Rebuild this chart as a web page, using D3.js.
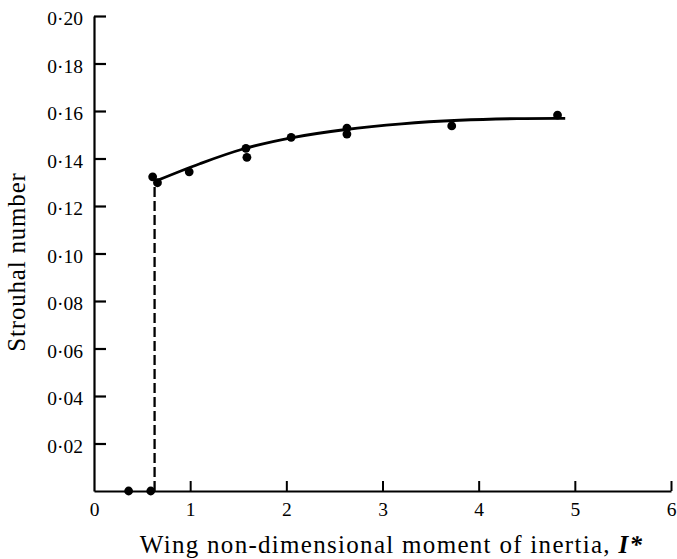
<!DOCTYPE html>
<html>
<head>
<meta charset="utf-8">
<script src="https://cdn.jsdelivr.net/npm/d3@7"></script>
<style>
  html, body { margin: 0; padding: 0; background: #fff; }
  svg { display: block; }
  text { font-family: "Liberation Serif", "DejaVu Serif", serif; fill: #000; }
</style>
</head>
<body>
<svg id="chart" width="677" height="559"></svg>
<script>
// Measured points: wing moment of inertia vs. Strouhal number
const inertia  = [0.36, 0.59, 0.61, 0.66, 0.99, 1.58, 1.59, 2.05, 2.63, 2.63, 3.72, 4.82];
const strouhal = [0, 0, 0.1323, 0.1298, 0.1344, 0.1443, 0.1405, 0.1489, 0.1528, 0.1503, 0.1537, 0.1583];

// Hand-drawn fitted curve through the fluttering branch
const fitInertia  = [0.66, 1.1, 1.55, 2.05, 2.6, 3.2, 3.8, 4.4, 4.9];
const fitStrouhal = [0.1308, 0.1378, 0.1440, 0.1487, 0.1521, 0.1546, 0.1561, 0.1568, 0.1569];

// Onset of flutter (dashed jump)
const onsetInertia = [0.63, 0.63];
const onsetStrouhal = [0, 0.129];

// Axis ticks
const xTicks = [0, 1, 2, 3, 4, 5, 6];
const yTicks = [0.02, 0.04, 0.06, 0.08, 0.10, 0.12, 0.14, 0.16, 0.18, 0.20];

const xLabel = "Wing non-dimensional moment of inertia, ";
const xLabelSymbol = "I*";
const yLabel = "Strouhal number";

const svg = d3.select("#chart");

const x = d3.scaleLinear().domain([0, 6]).range([94, 671]);
const y = d3.scaleLinear().domain([0, 0.20]).range([491, 16]);

const fmt = v => d3.format(".2f")(v).replace(".", "\u00B7");

// Y axis: ticks point into the plot
const yAxis = svg.append("g")
  .attr("transform", `translate(${x(0)},0)`)
  .call(d3.axisLeft(y).tickValues(yTicks).tickFormat(fmt)
    .tickSizeInner(-12).tickSizeOuter(0).tickPadding(11));
yAxis.select(".domain").attr("stroke", "#000").attr("stroke-width", 2.2);
yAxis.selectAll(".tick line").attr("stroke", "#000").attr("stroke-width", 2.2);
yAxis.selectAll(".tick text")
  .attr("dy", "0.45em")
  .style("font-size", "19.5px")
  .style("font-family", "'Liberation Serif', serif");

// X axis: ticks point up, no tick mark at zero
const xAxis = svg.append("g")
  .attr("transform", `translate(0,${y(0)})`)
  .call(d3.axisBottom(x).tickValues(xTicks).tickFormat(d3.format("d"))
    .tickSizeInner(-10).tickSizeOuter(0).tickPadding(11));
xAxis.select(".domain").attr("stroke", "#000").attr("stroke-width", 2.2);
xAxis.selectAll(".tick line").attr("stroke", "#000").attr("stroke-width", 2)
  .attr("display", d => d === 0 ? "none" : null);
xAxis.selectAll(".tick text")
  .style("font-size", "19.5px")
  .style("font-family", "'Liberation Serif', serif");

// Dashed vertical jump
svg.append("path")
  .datum(d3.zip(onsetInertia, onsetStrouhal))
  .attr("fill", "none")
  .attr("stroke", "#000")
  .attr("stroke-width", 2.3)
  .attr("stroke-dasharray", "10,4")
  .attr("d", d3.line().x(d => x(d[0])).y(d => y(d[1])));

// Fitted curve
svg.append("path")
  .datum(d3.zip(fitInertia, fitStrouhal))
  .attr("fill", "none")
  .attr("stroke", "#000")
  .attr("stroke-width", 2.8)
  .attr("d", d3.line().curve(d3.curveCatmullRom).x(d => x(d[0])).y(d => y(d[1])));

// Data points
svg.append("g")
  .selectAll("circle")
  .data(d3.zip(inertia, strouhal))
  .join("circle")
  .attr("cx", d => x(d[0]))
  .attr("cy", d => y(d[1]))
  .attr("r", 4.4)
  .attr("fill", "#000");

// Axis titles
const xt = svg.append("text")
  .attr("x", (x(0) + x(6)) / 2 + 9)
  .attr("y", 553)
  .attr("text-anchor", "middle")
  .style("font-size", "25px")
  .style("letter-spacing", "1.3px");
xt.append("tspan").text(xLabel);
xt.append("tspan").style("font-style", "italic").style("font-weight", "bold").text(xLabelSymbol);

svg.append("text")
  .attr("transform", `translate(25,${262}) rotate(-90)`)
  .attr("text-anchor", "middle")
  .style("font-size", "25px")
  .style("letter-spacing", "0.8px")
  .text(yLabel);
</script>
</body>
</html>
